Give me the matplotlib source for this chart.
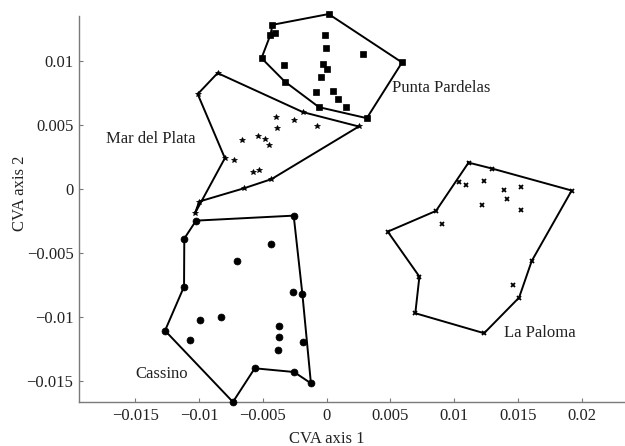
import matplotlib
matplotlib.use("Agg")
import matplotlib.pyplot as plt

plt.rcParams['font.family'] = ['Liberation Serif', 'DejaVu Serif']

# Punta Pardelas (squares): hull outline in drawing order, then inner points
pp_hull_x = [-0.00424, 0.00016, 0.00591, 0.00315, -0.00060, -0.00328, -0.00510, -0.00440]
pp_hull_y = [0.01281, 0.01365, 0.00987, 0.00552, 0.00638, 0.00838, 0.01021, 0.01203]
pp_in_x = [-0.00401, -0.00013, -0.00008, 0.00289, -0.00336, -0.00029, 0.00002, -0.00041,
           -0.00080, 0.00047, 0.00088, 0.00154]
pp_in_y = [0.01216, 0.01198, 0.01096, 0.01052, 0.00966, 0.00977, 0.00935, 0.00870,
           0.00755, 0.00766, 0.00701, 0.00638]

# Mar del Plata (stars)
mp_hull_x = [-0.00854, -0.00185, 0.00252, -0.00432, -0.00646, -0.00998, -0.01031, -0.00797, -0.01010]
mp_hull_y = [0.00904, 0.00599, 0.00487, 0.00076, 0.00005, -0.00099, -0.00190, 0.00240, 0.00740]
mp_in_x = [-0.00393, -0.00252, -0.00385, -0.00076, -0.00666, -0.00539, -0.00479, -0.00453,
           -0.00724, -0.00576, -0.00531]
mp_in_y = [0.00560, 0.00534, 0.00477, 0.00487, 0.00380, 0.00414, 0.00388, 0.00344,
           0.00227, 0.00133, 0.00148]

# Cassino (circles)
ca_hull_x = [-0.01023, -0.00258, -0.00190, -0.00123, -0.00255, -0.00563, -0.00734, -0.01266, -0.01117, -0.01115]
ca_hull_y = [-0.00248, -0.00209, -0.00820, -0.01518, -0.01430, -0.01401, -0.01664, -0.01107, -0.00763, -0.00388]
ca_in_x = [-0.00432, -0.00705, -0.00260, -0.00992, -0.00830, -0.01073, -0.00375, -0.00373,
           -0.00377, -0.00188]
ca_in_y = [-0.00427, -0.00560, -0.00807, -0.01026, -0.01000, -0.01177, -0.01068, -0.01159,
           -0.01260, -0.01198]

# La Paloma (crosses)
lp_hull_x = [0.01112, 0.01295, 0.01920, 0.01607, 0.01508, 0.01234, 0.00695, 0.00727, 0.00479, 0.00857]
lp_hull_y = [0.00205, 0.00159, -0.00013, -0.00563, -0.00849, -0.01127, -0.00971, -0.00685, -0.00334, -0.00172]
lp_in_x = [0.01039, 0.01091, 0.01237, 0.01393, 0.01526, 0.01414, 0.01221, 0.01523, 0.00902, 0.01461]
lp_in_y = [0.00052, 0.00029, 0.00063, -0.00008, 0.00018, -0.00080, -0.00125, -0.00166, -0.00273, -0.00752]

groups = [
    ("Punta Pardelas", pp_hull_x, pp_hull_y, pp_in_x, pp_in_y, "s", 3.8, (0.0051, 0.0079), "left"),
    ("Mar del Plata", mp_hull_x, mp_hull_y, mp_in_x, mp_in_y, "*", 4.2, (-0.0103, 0.0039), "right"),
    ("Cassino", ca_hull_x, ca_hull_y, ca_in_x, ca_in_y, "o", 5, (-0.0150, -0.01445), "left"),
    ("La Paloma", lp_hull_x, lp_hull_y, lp_in_x, lp_in_y, "x", 3.3, (0.0139, -0.01125), "left"),
]

fig = plt.figure(figsize=(6.25, 4.46), dpi=100)
ax = fig.add_axes([0.1264, 0.0987, 0.872, 0.8655])

for name, hx, hy, ix, iy, mk, ms, (tx, ty), ha in groups:
    ax.plot(hx + hx[:1], hy + hy[:1], color="black", lw=1.4, clip_on=False, zorder=2)
    ax.plot(hx + ix, hy + iy, linestyle="none", marker=mk, ms=ms, color="black",
            mew=1.3 if mk == "x" else 0.5, clip_on=False, zorder=3)
    ax.text(tx, ty, name, fontsize=12, ha=ha, va="center", color="#222222")

ax.set_xlim(-0.0194, 0.0233)
ax.set_ylim(-0.01664, 0.0135)
ax.set_xticks([-0.015, -0.01, -0.005, 0, 0.005, 0.01, 0.015, 0.02])
ax.set_xticklabels(["\u22120.015", "\u22120.01", "\u22120.005", "0", "0.005", "0.01", "0.015", "0.02"])
ax.set_yticks([-0.015, -0.01, -0.005, 0, 0.005, 0.01])
ax.set_yticklabels(["\u22120.015", "\u22120.01", "\u22120.005", "0", "0.005", "0.01"])

for side in ["top", "right"]:
    ax.spines[side].set_visible(False)
for side in ["left", "bottom"]:
    ax.spines[side].set_color("#7a7a7a")
    ax.spines[side].set_linewidth(1.0)
ax.tick_params(direction="in", length=3, color="#7a7a7a", labelsize=12,
               labelcolor="#222222", pad=4)

ax.set_xlabel("CVA axis 1", fontsize=12, color="#222222")
ax.set_ylabel("CVA axis 2", fontsize=12, color="#222222")
ax.xaxis.set_label_coords(0.455, -0.075)
ax.yaxis.set_label_coords(-0.093, 0.541)

fig.savefig("out.png", dpi=100)
